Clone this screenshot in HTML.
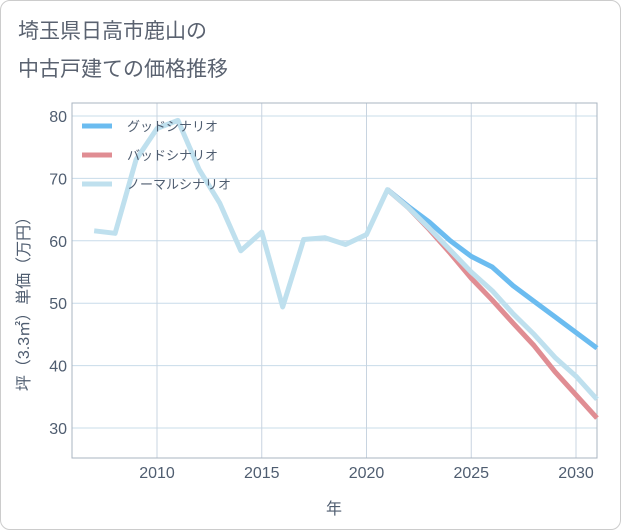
<!DOCTYPE html>
<html><head><meta charset="utf-8"><style>
body{margin:0;background:#fff;font-family:"Liberation Sans","Noto Sans CJK JP",sans-serif;}
#wrap{position:relative;width:619px;height:528px;border:1px solid #ccc;border-radius:10px;overflow:hidden;}
</style></head><body>
<div id="wrap">
<svg id="chart" width="621" height="530" style="position:absolute;left:-1px;top:-1px"></svg>
</div>
<script>
const years=[2007,2008,2009,2010,2011,2012,2013,2014,2015,2016,2017,2018,2019,2020,2021,2022,2023,2024,2025,2026,2027,2028,2029,2030,2031];
const histVals=[61.6,61.2,73,78,79.3,71.5,66,58.4,61.4,49.4,60.2,60.5,59.4,61,68.2];
const futYears=[2021,2022,2023,2024,2025,2026,2027,2028,2029,2030,2031];
const goodVals=[68.2,65.5,63,60,57.5,55.8,52.8,50.3,47.8,45.3,42.8];
const badVals=[68.2,65.3,61.8,58,54,50.5,46.8,43.2,39,35.3,31.6];
const normVals=[68.2,65.3,62,58.5,55,52,48.3,45,41.3,38.3,34.6];
const xTicks=[2010,2015,2020,2025,2030];
const yTicks=[30,40,50,60,70,80];
const NS='http://www.w3.org/2000/svg';
const svg=document.getElementById('chart');
const L=72,R=597,T=103,B=458;
const TXT='#4f5d70';
const xs=v=>157+(v-2010)*20.95;
const ys=v=>116+(80-v)*6.24;
function mk(tag,a,parent){const e=document.createElementNS(NS,tag);for(const k in a)e.setAttribute(k,a[k]);(parent||svg).appendChild(e);return e;}
const title=mk('text',{x:18,y:38,'font-size':21,fill:'#5a6270'});


title.textContent='埼玉県日高市鹿山の';
const title2=mk('text',{x:18,y:76,'font-size':21,fill:'#5a6270'});


title2.textContent='中古戸建ての価格推移';
yTicks.forEach(v=>{const l=mk('line',{x1:L,x2:R,y1:ys(v),y2:ys(v),stroke:'#c8dcea','stroke-width':1});


const t=mk('text',{x:L-5,y:ys(v)+6,'font-size':16,fill:TXT,'text-anchor':'end'});


t.textContent=v;});
xTicks.forEach(v=>{const l=mk('line',{x1:xs(v),x2:xs(v),y1:T,y2:B,stroke:'#c8d4e0','stroke-width':1});


const t=mk('text',{x:xs(v),y:B+20,'font-size':16,fill:TXT,'text-anchor':'middle'});


t.textContent=v;});
const fr=mk('rect',{x:L,y:T,width:R-L,height:B-T,fill:'none',stroke:'#aab4c0'});


const xt=mk('text',{x:334,y:514,'font-size':16,fill:TXT,'text-anchor':'middle'});


xt.textContent='年';
const yt=mk('text',{x:0,y:0,'font-size':16,fill:TXT,'text-anchor':'middle',transform:'translate(29,300) rotate(-90)'});


yt.textContent='坪（3.3㎡）単価（万円）';
function line(xv,yv,color,name){const p=mk('polyline',{points:xv.map((x,i)=>xs(x)+','+ys(yv[i])).join(' '),fill:'none',stroke:color,'stroke-width':5,'stroke-linejoin':'round'});

}
line(futYears,goodVals,'#6bbcf0','good-scenario-line');
line(futYears,badVals,'#e08d93','bad-scenario-line');
line(years.slice(0,15).concat(futYears.slice(1)),histVals.concat(normVals.slice(1)),'#bfe0ee','normal-scenario-line');
const leg=[['グッドシナリオ','#6bbcf0'],['バッドシナリオ','#e08d93'],['ノーマルシナリオ','#bfe0ee']];
leg.forEach((d,i)=>{const y=126+i*29;
const s=mk('line',{x1:82,x2:112,y1:y,y2:y,stroke:d[1],'stroke-width':5});


const t=mk('text',{x:127,y:y+5,'font-size':13,fill:TXT});


t.textContent=d[0];});
</script>
</body></html>
